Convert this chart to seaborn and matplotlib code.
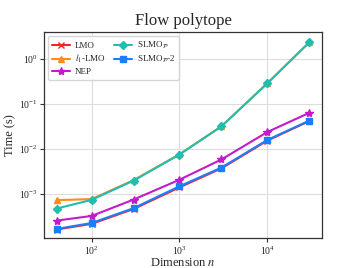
import numpy as np
import pandas as pd
import seaborn as sns
import matplotlib
matplotlib.use("Agg")
import matplotlib.pyplot as plt

# ---- data ----
dims = [40, 100, 300, 1000, 3000, 10000, 30000]

lmo = [1.65e-4, 2.2e-4, 4.7e-4, 1.42e-3, 3.75e-3, 0.0155, 0.042]
l1_lmo = [7.4e-4, 7.8e-4, 2.05e-3, 7.7e-3, 0.032, 0.29, 2.35]
nep = [2.6e-4, 3.3e-4, 7.6e-4, 2.1e-3, 5.9e-3, 0.024, 0.064]
slmo_p = [4.8e-4, 7.5e-4, 2.0e-3, 7.6e-3, 0.032, 0.29, 2.35]
slmo_p2 = [1.7e-4, 2.3e-4, 4.9e-4, 1.5e-3, 3.9e-3, 0.016, 0.043]

labels = ['LMO', r'$l_1$-LMO', 'NEP', r'SLMO$_\mathcal{P}$', r'SLMO$_\mathcal{P}$-2']
series = [lmo, l1_lmo, nep, slmo_p, slmo_p2]
colors = ['#ff2020', '#ff8c1a', '#c21bc9', '#1fbfb0', '#1a7fff']
markers = ['x', '^', '*', 'D', 's']
sizes = [5, 5, 6, 4.5, 5]

sns.set_style('whitegrid', {'axes.edgecolor': '#333333', 'grid.color': '#dddddd'})
plt.rcParams['font.family'] = ['Liberation Serif', 'DejaVu Serif']
plt.rcParams['mathtext.fontset'] = 'stix'

fig, ax = plt.subplots(figsize=(3.57, 2.68), dpi=100)

for lab, vals, col, mk, ms in zip(labels, series, colors, markers, sizes):
    df = pd.DataFrame({'n': dims, 't': vals})
    sns.lineplot(data=df, x='n', y='t', ax=ax, color=col, marker=mk,
                 markersize=ms, linewidth=1.5, label=lab,
                 markeredgecolor=col, markeredgewidth=1.0)

ax.set_xscale('log')
ax.set_yscale('log')
ax.set_ylim(10 ** -3.97, 10 ** 0.6)
ax.minorticks_off()
ax.tick_params(axis='both', which='major', length=3, width=0.8, pad=1.5,
               labelsize=7, direction='out', left=True, bottom=True,
               color='#333333')
for s in ax.spines.values():
    s.set_linewidth(0.9)

ax.set_title('Flow polytope', fontsize=12, pad=5)
ax.set_xlabel(r'Dimension $n$', fontsize=9, labelpad=0)
ax.set_ylabel('Time (s)', fontsize=9, labelpad=2)

ax.legend(ncol=2, fontsize=6.5, loc='upper left', frameon=True,
          handlelength=2.0, columnspacing=1.0, labelspacing=0.3,
          borderpad=0.4, handletextpad=0.5)

fig.subplots_adjust(left=0.123, right=0.902, top=0.881, bottom=0.112)
fig.savefig('out.png', dpi=100)
